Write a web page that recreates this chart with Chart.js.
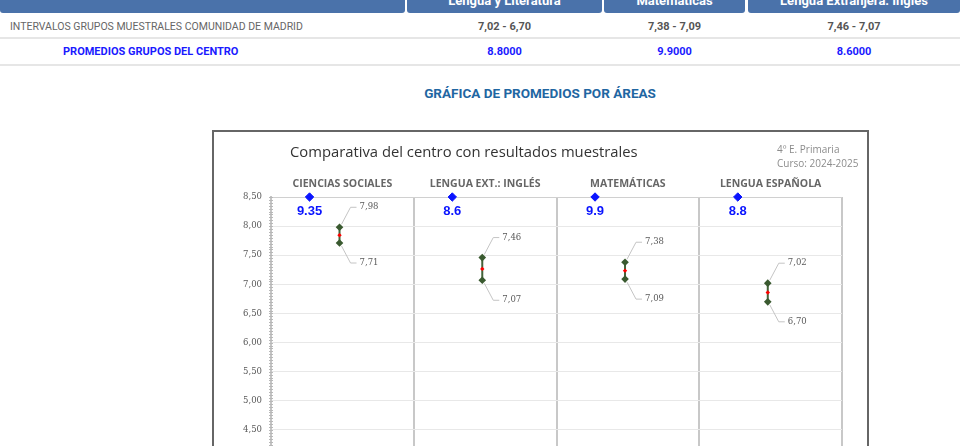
<!DOCTYPE html>
<html lang="es">
<head>
<meta charset="utf-8">
<title>Gráfica de promedios por áreas</title>
<script src="https://cdn.jsdelivr.net/npm/chart.js@4.4.1/dist/chart.umd.min.js"></script>
<style>
  html, body { margin: 0; padding: 0; background: #fff; }
  body { width: 960px; height: 446px; overflow: hidden; position: relative; font-family: Roboto, "Noto Sans", sans-serif; }
  .cab { position: absolute; top: -12px; height: 25px; line-height: 25px; background: #4a72aa; color: #fff;
         font-weight: bold; font-size: 13px; text-align: center; border-radius: 0 0 3px 3px; }
  .fila { position: absolute; left: 0; width: 960px; border-bottom: 2px solid #e6e6e6; }
  .txt { position: absolute; white-space: nowrap; }
  .val { position: absolute; text-align: center; font-weight: bold; font-size: 11px; }
  #titulo { position: absolute; left: 0; width: 1080px; top: 85px; text-align: center; color: #1f66a2;
            font-weight: bold; font-size: 13.5px; }
  #caja { position: absolute; left: 212px; top: 130px; width: 653px; height: 600px; border: 2px solid #666; }
  #grafico { position: absolute; left: 0; top: 0; }
  #tituloGrafico { position: absolute; left: 76px; top: 9px; font-family: "Open Sans", sans-serif; font-size: 14.8px; color: #333; }
  #curso { position: absolute; left: 563px; top: 10px; font-family: "Open Sans", sans-serif; font-size: 10px; color: #8c8c8c; line-height: 14px; }
</style>
</head>
<body>

<div id="tabla"></div>
<div id="titulo">GRÁFICA DE PROMEDIOS POR ÁREAS</div>

<div id="caja">
  <canvas id="grafico" width="651" height="620"></canvas>
  <div id="tituloGrafico">Comparativa del centro con resultados muestrales</div>
  <div id="curso">4º E. Primaria<br>Curso: 2024-2025</div>
</div>

<script>
// Datos del gráfico
const categorias = ['CIENCIAS SOCIALES', 'LENGUA EXT.: INGLÉS', 'MATEMÁTICAS', 'LENGUA ESPAÑOLA'];
const promedioCentro = [9.35, 8.6, 9.9, 8.8];
const intervaloMax = [7.98, 7.46, 7.38, 7.02];
const intervaloMin = [7.71, 7.07, 7.09, 6.70];
const marcasEjeY = [8.5, 8, 7.5, 7, 6.5, 6, 5.5, 5, 4.5, 4, 3.5, 3, 2.5, 2, 1.5, 1, 0.5, 0];

// Columnas de la tabla superior (índice en categorias)
const columnasTabla = ['Lengua y Literatura', 'Matemáticas', 'Lengua Extranjera: Inglés'];
const indiceColumna = [3, 2, 1];

const yMax = marcasEjeY[0];
const yMin = marcasEjeY[marcasEjeY.length - 1];

function coma(v) {
    return v.toFixed(2).replace('.', ',');
}

// Tabla de encima
function pintarTabla() {
    const celdas = [[0, 405], [407, 602], [604, 745], [748, 960]];
    let html = '';
    celdas.forEach((c, i) => {
        html += `<div class="cab" style="left:${c[0]}px;width:${c[1] - c[0]}px">${i ? columnasTabla[i - 1] : ''}</div>`;
    });
    html += '<div class="fila" style="top:14px;height:23px"></div>';
    html += '<div class="fila" style="top:39px;height:25px"></div>';
    html += '<div class="txt" style="left:10px;top:20px;font-size:10.5px;color:#666">INTERVALOS GRUPOS MUESTRALES COMUNIDAD DE MADRID</div>';
    html += '<div class="txt" style="left:63px;top:45px;font-size:11px;font-weight:bold;color:#1a1aff">PROMEDIOS GRUPOS DEL CENTRO</div>';
    celdas.slice(1).forEach((c, i) => {
        const k = indiceColumna[i];
        html += `<div class="val" style="left:${c[0]}px;width:${c[1] - c[0]}px;top:20px;color:#555">${coma(intervaloMax[k])} - ${coma(intervaloMin[k])}</div>`;
        html += `<div class="val" style="left:${c[0]}px;width:${c[1] - c[0]}px;top:45px;color:#1a1aff">${promedioCentro[k].toFixed(4)}</div>`;
    });
    document.getElementById('tabla').innerHTML = html;
}

// Etiquetas, líneas guía y marcas menores del eje
const pluginEtiquetas = {
    id: 'etiquetas',
    afterDatasetsDraw(chart) {
        const ctx = chart.ctx;
        const xs = chart.scales.x;
        const ys = chart.scales.y;
        ctx.save();

        // marcas menores del eje Y
        ctx.strokeStyle = '#b8b8b8';
        ctx.lineWidth = 1;
        for (let v = yMin; v <= yMax + 0.001; v += 0.05) {
            const py = Math.round(ys.getPixelForValue(v)) + 0.5;
            ctx.beginPath();
            ctx.moveTo(xs.left - 2, py);
            ctx.lineTo(xs.left + 2, py);
            ctx.stroke();
        }

        // valores del centro
        const metaCentro = chart.getDatasetMeta(2);
        ctx.fillStyle = '#0a14ff';
        ctx.font = 'bold 13px "Liberation Sans", Arial, sans-serif';
        ctx.textAlign = 'center';
        ctx.textBaseline = 'middle';
        metaCentro.data.forEach((p, i) => {
            ctx.fillText(String(promedioCentro[i]), p.x, p.y + 14);
        });

        // etiquetas del intervalo
        ctx.font = '8.5px "DejaVu Serif", serif';
        ctx.textAlign = 'left';
        ctx.fillStyle = '#595959';
        ctx.strokeStyle = '#c4c4c4';
        categorias.forEach((c, i) => {
            const px = xs.getPixelForValue(i + 0.48);
            [[intervaloMax[i], -1], [intervaloMin[i], 1]].forEach(([v, s]) => {
                const py = ys.getPixelForValue(v);
                ctx.beginPath();
                ctx.moveTo(px + 2, py + s * 3);
                ctx.lineTo(px + 11, py + s * 20);
                ctx.lineTo(px + 17, py + s * 20);
                ctx.stroke();
                ctx.fillText(coma(v), px + 20, py + s * 20);
            });
        });
        ctx.restore();
    }
};

function pintarGrafico() {
    const puntosIntervalo = [];
    categorias.forEach((c, i) => {
        puntosIntervalo.push({ x: i + 0.48, y: intervaloMax[i] });
        puntosIntervalo.push({ x: i + 0.48, y: intervaloMin[i] });
        puntosIntervalo.push({ x: i + 0.48, y: null });
    });

    new Chart(document.getElementById('grafico'), {
        type: 'scatter',
        data: {
            datasets: [
                {
                    label: 'Media intervalo',
                    data: categorias.map((c, i) => ({ x: i + 0.48, y: (intervaloMax[i] + intervaloMin[i]) / 2 })),
                    pointStyle: 'rectRot',
                    pointRadius: 2.2,
                    backgroundColor: '#ff0000',
                    borderColor: '#ff0000',
                    borderWidth: 0,
                    order: 0
                },
                {
                    label: 'Intervalo muestral',
                    data: puntosIntervalo,
                    showLine: true,
                    spanGaps: false,
                    borderColor: '#44633a',
                    borderWidth: 2,
                    pointStyle: 'rectRot',
                    pointRadius: 2.4,
                    pointBackgroundColor: '#3a5a30',
                    pointBorderColor: '#3a5a30',
                    order: 1
                },
                {
                    label: 'Promedio centro',
                    data: categorias.map((c, i) => ({ x: i + 0.27, y: Math.min(promedioCentro[i], yMax) })),
                    pointStyle: 'rectRot',
                    pointRadius: 4.2,
                    backgroundColor: '#0a14ff',
                    borderColor: '#0a14ff',
                    clip: false,
                    order: 2
                }
            ]
        },
        options: {
            responsive: false,
            animation: false,
            devicePixelRatio: 1,
            layout: { padding: { left: 0, top: 0, right: 23, bottom: 60 } },
            plugins: {
                legend: { display: false },
                tooltip: { enabled: false }
            },
            scales: {
                x: {
                    type: 'linear',
                    position: 'bottom',
                    min: 0,
                    max: categorias.length,
                    ticks: { display: false, stepSize: 1 },
                    grid: { color: '#c8c8c8', lineWidth: 2, drawTicks: false },
                    border: { display: false },
                    afterFit: s => { s.height = 0; }
                },
                x2: {
                    type: 'linear',
                    position: 'top',
                    min: 0,
                    max: categorias.length,
                    afterBuildTicks: s => { s.ticks = categorias.map((c, i) => ({ value: i + 0.5 })); },
                    ticks: {
                        autoSkip: false,
                        maxRotation: 0,
                        padding: 7,
                        color: '#666',
                        font: { family: 'Open Sans', size: 10.5, weight: 'bold' },
                        callback: (v, i) => categorias[i]
                    },
                    grid: { display: false, drawTicks: false },
                    border: { display: false },
                    afterFit: s => { s.height = 65; }
                },
                y: {
                    min: yMin,
                    max: yMax,
                    afterBuildTicks: s => { s.ticks = marcasEjeY.map(v => ({ value: v })); },
                    ticks: {
                        padding: 9,
                        color: '#595959',
                        font: { family: 'DejaVu Serif', size: 8.5 },
                        callback: v => coma(v)
                    },
                    grid: {
                        color: ctx => (ctx.tick && ctx.tick.value === yMax ? '#d0d0d0' : '#e8e8e8'),
                        lineWidth: 1,
                        drawTicks: false
                    },
                    border: { color: '#c4c4c4', width: 2 },
                    afterFit: s => { s.width = 57; }
                }
            }
        },
        plugins: [pluginEtiquetas]
    });
}

pintarTabla();
pintarGrafico();
</script>
</body>
</html>
